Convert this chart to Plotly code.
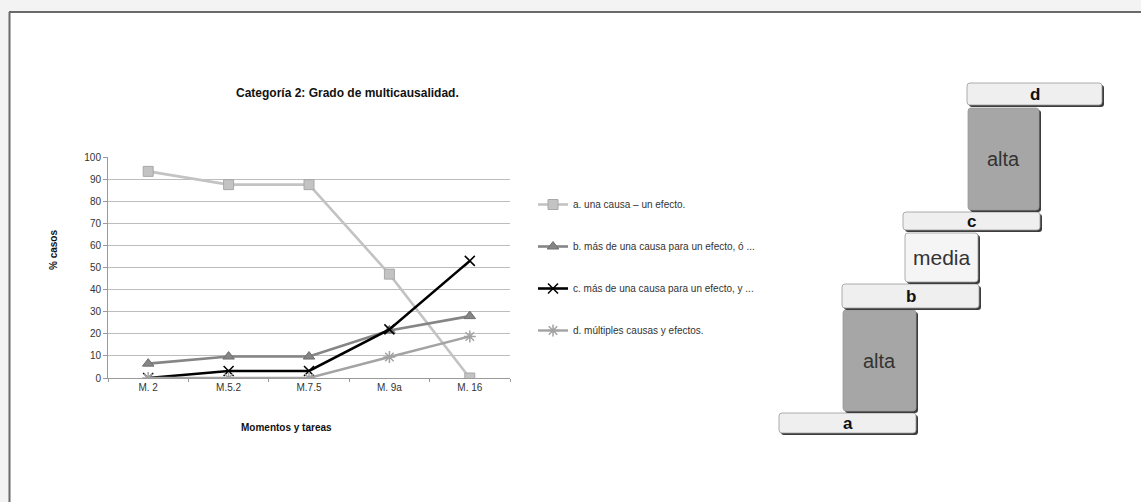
import plotly.graph_objects as go

W, H = 1141, 502

# ---------------- data ----------------
categories = ["M. 2", "M.5.2", "M.7.5", "M. 9a", "M. 16"]
serie_a = [93.5, 87.5, 87.5, 47, 0]
serie_b = [6.5, 9.7, 9.7, 21.5, 28]
serie_c = [0, 3.2, 3.2, 22, 53]
serie_d = [0, 0, 0, 9.5, 18.8]
series_names = [
    "a. una causa – un efecto.",
    "b. más de una causa para un efecto, ó ...",
    "c. más de una causa para un efecto, y ...",
    "d. múltiples causas y efectos.",
]
y_ticks = list(range(0, 101, 10))
chart_title = "Categoría 2: Grado de multicausalidad."
x_title = "Momentos y tareas"
y_title = "% casos"

# staircase diagram labels (bottom to top)
diagram_labels = ["a", "alta", "b", "media", "c", "alta", "d"]
diagram_kinds = ["bar", "dark", "bar", "light", "bar", "dark", "bar"]

# ---------------- layout geometry (pixels) ----------------
diagram_boxes = [
    (779, 413, 916, 433),
    (843, 310, 916, 411),
    (842, 284, 979, 308),
    (905, 233, 978, 282),
    (903, 212, 1040, 230),
    (968, 108, 1039, 210),
    (967, 83, 1102, 105),
]
box_styles = {
    "bar": dict(fill="#efefef", size=17, color="#111111", bold=True),
    "dark": dict(fill="#a6a6a6", size=20, color="#333333", bold=False),
    "light": dict(fill="#f5f5f5", size=21, color="#333333", bold=False),
}


def px(x):
    return x / W


def py(y):
    return 1 - y / H


def rrect_path(x0, y0, x1, y1, r=3):
    pts = [
        f"M{px(x0 + r)},{py(y0)}",
        f"L{px(x1 - r)},{py(y0)}",
        f"Q{px(x1)},{py(y0)} {px(x1)},{py(y0 + r)}",
        f"L{px(x1)},{py(y1 - r)}",
        f"Q{px(x1)},{py(y1)} {px(x1 - r)},{py(y1)}",
        f"L{px(x0 + r)},{py(y1)}",
        f"Q{px(x0)},{py(y1)} {px(x0)},{py(y1 - r)}",
        f"L{px(x0)},{py(y0 + r)}",
        f"Q{px(x0)},{py(y0)} {px(x0 + r)},{py(y0)}",
        "Z",
    ]
    return " ".join(pts)


FONT = "Liberation Sans"

fig = go.Figure()

styles = [
    dict(color="#c3c3c3", symbol="square", msize=10, mline="#a8a8a8", width=2.6),
    dict(color="#858585", symbol="triangle-up", msize=10, mline="#6e6e6e", width=2.6),
    dict(color="#000000", symbol="x-thin-open", msize=10, mline="#000000", width=2.6),
    dict(color="#a3a3a3", symbol="asterisk-open", msize=10, mline="#a3a3a3", width=2.4),
]
for name, vals, st in zip(series_names, [serie_a, serie_b, serie_c, serie_d], styles):
    open_sym = st["symbol"].endswith("open")
    fig.add_trace(go.Scatter(
        x=categories, y=vals, name=name, mode="lines+markers",
        legendgroup=name,
        line=dict(color=st["color"], width=st["width"]),
        marker=dict(symbol=st["symbol"], size=st["msize"], color=st["color"],
                    line=dict(color=st["mline"], width=1.5 if open_sym else 1)),
    ))

shapes = []
# outer frame
shapes.append(dict(type="rect", xref="paper", yref="paper", x0=0, x1=1, y0=py(12), y1=1,
                   fillcolor="#f3f3f3", line=dict(width=0), layer="below"))
shapes.append(dict(type="rect", xref="paper", yref="paper", x0=0, x1=px(9), y0=0, y1=1,
                   fillcolor="#f3f3f3", line=dict(width=0), layer="below"))
shapes.append(dict(type="line", xref="paper", yref="paper", x0=px(9), x1=1, y0=py(12), y1=py(12),
                   line=dict(color="#6a6a6a", width=2)))
shapes.append(dict(type="line", xref="paper", yref="paper", x0=px(9.5), x1=px(9.5), y0=py(12), y1=0,
                   line=dict(color="#6a6a6a", width=2)))

annotations = []
for label, kind, (x0, y0, x1, y1) in zip(diagram_labels, diagram_kinds, diagram_boxes):
    st = box_styles[kind]
    shapes.append(dict(type="path", xref="paper", yref="paper",
                       path=rrect_path(x0 + 2, y0 + 2, x1 + 2, y1 + 2),
                       fillcolor="#3c3c3c", line=dict(width=0)))
    shapes.append(dict(type="path", xref="paper", yref="paper",
                       path=rrect_path(x0, y0, x1, y1),
                       fillcolor=st["fill"], line=dict(color="#9a9a9a", width=0.8)))
    annotations.append(dict(xref="paper", yref="paper", x=px((x0 + x1) / 2), y=py((y0 + y1) / 2),
                            text=f"<b>{label}</b>" if st["bold"] else label,
                            showarrow=False, xanchor="center", yanchor="middle",
                            font=dict(family=FONT, size=st["size"], color=st["color"])))

annotations.append(dict(xref="paper", yref="paper", x=px(347), y=py(93), text=f"<b>{chart_title}</b>",
                        showarrow=False, xanchor="center", yanchor="middle",
                        font=dict(family=FONT, size=12, color="#111111")))
annotations.append(dict(xref="paper", yref="paper", x=px(286), y=py(427), text=f"<b>{x_title}</b>",
                        showarrow=False, xanchor="center", yanchor="middle",
                        font=dict(family=FONT, size=10, color="#111111")))
annotations.append(dict(xref="paper", yref="paper", x=px(53), y=py(250), text=f"<b>{y_title}</b>",
                        showarrow=False, xanchor="center", yanchor="middle", textangle=-90,
                        font=dict(family=FONT, size=10, color="#111111")))

fig.update_layout(
    width=W, height=H,
    margin=dict(l=0, r=0, t=0, b=0),
    paper_bgcolor="white", plot_bgcolor="white",
    showlegend=True,
    font=dict(family=FONT, size=10, color="#333333"),
    legend=dict(x=px(533), y=py(190), xanchor="left", yanchor="top",
                traceorder="grouped", tracegroupgap=23,
                font=dict(family=FONT, size=10, color="#333333"),
                bgcolor="rgba(0,0,0,0)", itemwidth=30),
    xaxis=dict(domain=[px(108), px(510)], type="category", range=[-0.5, 4.5],
               showline=True, linecolor="#9a9a9a", linewidth=1,
               ticks="outside", tickson="boundaries", ticklen=3, tickcolor="#9a9a9a",
               showgrid=False, automargin=False, fixedrange=True,
               tickfont=dict(family=FONT, size=10, color="#333333")),
    yaxis=dict(domain=[py(378), py(157)], range=[0, 100], tickvals=y_ticks,
               showline=True, linecolor="#9a9a9a", linewidth=1,
               ticks="outside", ticklen=4, tickcolor="#9a9a9a",
               showgrid=True, gridcolor="#bdbdbd", gridwidth=1,
               zeroline=False, automargin=False, fixedrange=True,
               tickfont=dict(family=FONT, size=10, color="#333333")),
    shapes=shapes,
    annotations=annotations,
)

fig.write_html("out.html", config={"displayModeBar": False},
               post_script="document.body.style.margin='0';document.body.style.overflow='hidden';")
